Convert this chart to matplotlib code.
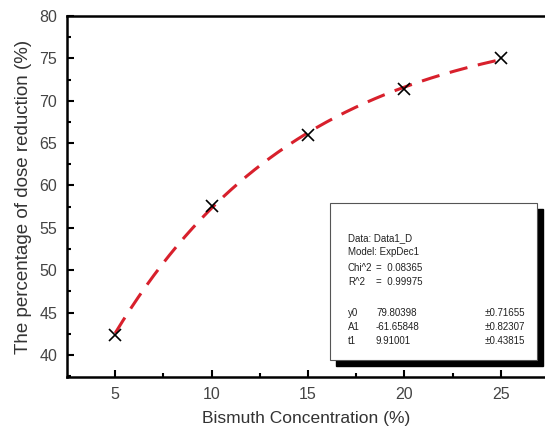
import numpy as np
import matplotlib.pyplot as plt

plt.rcParams['font.family'] = ['Liberation Sans', 'DejaVu Sans']

# measured points
conc = [5, 10, 15, 20, 25]
reduction = [42.4, 57.6, 66.0, 71.4, 75.0]

# ExpDec1 fit parameters shown in the chart
y0 = 79.80398
A1 = -61.65848
t1 = 9.91001

fig = plt.figure(figsize=(5.45, 4.29), dpi=100)
ax = fig.add_axes([67 / 545, 1 - 377 / 429, 1 - 67 / 545 + 0.002, (377 - 16) / 429])

xf = np.linspace(conc[0], conc[-1], 200)
ax.plot(xf, y0 + A1 * np.exp(-xf / t1), color='#d8202c', lw=2.2, ls=(0, (6, 3.5)))
ax.plot(conc, reduction, 'x', color='black', ms=9, mew=1.2)

ax.set_xlim(2.5, 27.35)
ax.set_ylim(37.4, 80)
ax.set_xticks(conc)
ax.set_xticks(np.arange(7.5, 25, 5), minor=True)
ax.set_yticks(np.arange(40, 81, 5))
ax.set_yticks(np.arange(37.5, 80, 5), minor=True)
ax.tick_params(which='both', direction='in', width=1.5, labelsize=11.5, labelcolor='#444444')
ax.tick_params(which='major', length=5, pad=7)
ax.tick_params(which='minor', length=3)
for s in ax.spines.values():
    s.set_linewidth(1.8)

ax.set_xlabel('Bismuth Concentration (%)', fontsize=12.5, color='#333333', labelpad=7)
ax.set_ylabel('The percentage of dose reduction (%)', fontsize=13.5, color='#333333', labelpad=5)

# fit result box with shadow
bx, by, bw, bh = 330, 203, 207, 157
shadow = plt.Rectangle(((bx + 6) / 545, 1 - (by + bh + 6) / 429), bw / 545, bh / 429,
                       transform=fig.transFigure, color='black', zorder=5)
box = plt.Rectangle((bx / 545, 1 - (by + bh) / 429), bw / 545, bh / 429,
                    transform=fig.transFigure, facecolor='white', edgecolor='#555555', lw=0.8, zorder=6)
fig.patches.extend([shadow, box])

rows = [
    (238, 'Data: Data1_D', '', ''),
    (252, 'Model: ExpDec1', '', ''),
    (268, 'Chi^2', '=  0.08365', ''),
    (282, 'R^2', '=  0.99975', ''),
    (313, 'y0', '79.80398', '±0.71655'),
    (327, 'A1', '-61.65848', '±0.82307'),
    (341, 't1', '9.91001', '±0.43815'),
]
for yy, a, b, c in rows:
    fig.text(348 / 545, 1 - yy / 429, a, fontsize=7, color='#222222', va='center', zorder=7)
    fig.text(376 / 545, 1 - yy / 429, b, fontsize=7, color='#222222', va='center', zorder=7)
    fig.text(485 / 545, 1 - yy / 429, c, fontsize=7, color='#222222', va='center', zorder=7)

fig.savefig('out.png', dpi=100)
